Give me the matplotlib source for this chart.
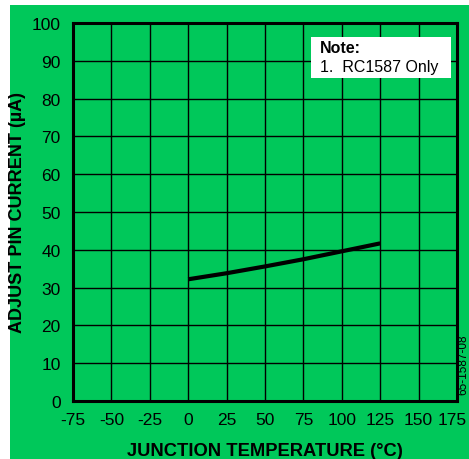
import matplotlib
matplotlib.use("Agg")
import matplotlib.pyplot as plt
from matplotlib.patches import Rectangle
from matplotlib.transforms import ScaledTranslation

temperature = [0, 25, 50, 75, 100, 125]
adjust_current = [32.2, 33.8, 35.6, 37.5, 39.6, 41.7]
x_ticks = [-75, -50, -25, 0, 25, 50, 75, 100, 125, 150, 175]
y_ticks = [0, 10, 20, 30, 40, 50, 60, 70, 80, 90, 100]

GREEN = "#00C85A"
plt.rcParams['font.family'] = ['Liberation Sans', 'DejaVu Sans']

W, H = 469, 460
fig = plt.figure(figsize=(W / 100, H / 100), dpi=100, facecolor="white")
fig.patches.append(Rectangle((10 / W, 0), 1 - 10 / W, 1 - 6 / H,
                             transform=fig.transFigure, facecolor=GREEN,
                             edgecolor="none", zorder=-10))

ax = fig.add_axes([73 / W, 1 - 402 / H, (457 - 73) / W, (402 - 24) / H])
ax.set_zorder(1)
ax.set_facecolor(GREEN)
ax.set_xlim(-75, 175)
ax.set_ylim(0, 100)
ax.set_xticks(x_ticks)
ax.set_yticks(y_ticks)
ax.set_xticklabels([str(v) for v in x_ticks])
ax.set_yticklabels([str(v) for v in y_ticks])
ax.grid(True, color="black", linewidth=1.0)
ax.set_axisbelow(True)
ax.tick_params(length=0, labelsize=12.5, colors="black")
ax.tick_params(axis='x', pad=8)
ax.tick_params(axis='y', pad=9)
for s in ax.spines.values():
    s.set_linewidth(2.2)
    s.set_color("black")

# shift the last x tick label left so it fits, as in the reference
last_lbl = ax.get_xticklabels()[-1]
last_lbl.set_transform(last_lbl.get_transform() + ScaledTranslation(-5 / 100, 0, fig.dpi_scale_trans))

ax.plot(temperature, adjust_current, color="black", linewidth=3, solid_capstyle="butt")

ax.set_xlabel("JUNCTION TEMPERATURE (°C)", fontsize=13.2, fontweight="bold", labelpad=11)
ax.set_ylabel("ADJUST PIN CURRENT (µA)", fontsize=13, fontweight="bold", labelpad=4)

ax.add_patch(Rectangle((0.62, 0.854), 0.364, 0.109, transform=ax.transAxes,
                       facecolor="white", edgecolor="none", zorder=4))
ax.text(0.643, 0.936, "Note:", transform=ax.transAxes,
        fontsize=11.5, va="center", ha="left", fontweight="bold", zorder=5)
ax.text(0.643, 0.884, "1.  RC1587 Only", transform=ax.transAxes,
        fontsize=11.5, va="center", ha="left", zorder=5)

fig.text(463 / W, 1 - 365 / H, "65-1587-08", rotation=90, fontsize=8.5,
         ha="center", va="center")

fig.savefig("out.png", dpi=100, facecolor="white")
